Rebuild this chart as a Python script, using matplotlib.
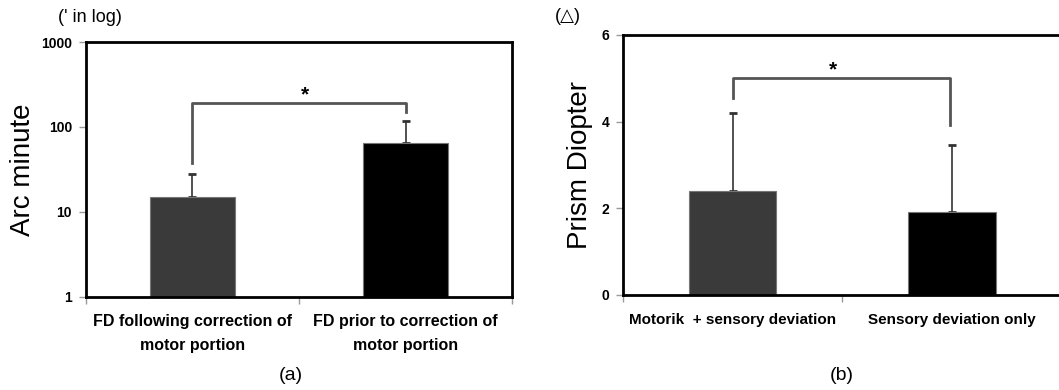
import matplotlib.pyplot as plt
import numpy as np

plt.rcParams['font.family'] = ['Liberation Sans', 'DejaVu Sans']

# panel (a): arc minute, log scale
cats_a = ['FD following correction of\nmotor portion', 'FD prior to correction of\nmotor portion']
mean_a = [15, 65]
sd_a = [13, 53]
# panel (b): prism diopter
cats_b = ['Motorik  + sensory deviation', 'Sensory deviation only']
mean_b = [2.4, 1.92]
sd_b = [1.8, 1.54]
bar_cols = ['#3a3a3a', '#000000']

fig = plt.figure(figsize=(10.59, 3.90), dpi=100)
ax1 = fig.add_axes([0.0812, 0.2385, 0.4023, 0.6538])
ax2 = fig.add_axes([0.5883, 0.2436, 0.4140, 0.6667])


def style(ax):
    for s in ax.spines.values():
        s.set_linewidth(2.0)
        s.set_color('black')
    ax.tick_params(axis='y', length=5, width=1, color='#999999', labelsize=10, pad=5)
    ax.tick_params(axis='x', length=5, width=1, color='#999999', labelsize=9.5, pad=6)
    for t in ax.get_yticklabels():
        t.set_fontweight('bold')


x = np.arange(2)

# ---- (a)
ax1.bar(x, mean_a, width=0.4, color=bar_cols, edgecolor='#777777', linewidth=0.8, zorder=2)
ax1.errorbar(x, mean_a, yerr=[[0, 0], sd_a], fmt='none', ecolor='#333333',
             elinewidth=1.2, capsize=3, capthick=2, zorder=1)
ax1.set_yscale('log')
ax1.set_ylim(1, 1000)
ax1.set_yticks([1, 10, 100, 1000])
ax1.set_yticklabels(['1', '10', '100', '1000'])
ax1.yaxis.set_minor_locator(plt.NullLocator())
ax1.set_xlim(-0.5, 1.5)
ax1.set_xticks([-0.5, 0.5, 1.5])
ax1.set_xticklabels([])
for xi, lab in zip(x, cats_a):
    ax1.text(xi, -0.065, lab, transform=ax1.get_xaxis_transform(), ha='center', va='top',
             fontsize=11.5, fontweight='bold', linespacing=1.75)
ax1.plot([0, 0, 1, 1], [38, 190, 190, 150], color='#555555', lw=2)
ax1.text(0.53, 240, '*', ha='center', va='center', fontsize=15, fontweight='bold')
ax1.set_ylabel('Arc minute', fontsize=20, labelpad=4)
ax1.text(-0.065, 1.095, "(' in log)", transform=ax1.transAxes, ha='left', va='center', fontsize=13)
style(ax1)
ax1.text(0.48, -0.306, '(a)', transform=ax1.transAxes, ha='center', va='center', fontsize=14)

# ---- (b)
ax2.bar(x, mean_b, width=0.4, color=bar_cols, edgecolor='#777777', linewidth=0.8, zorder=2)
ax2.errorbar(x, mean_b, yerr=[[0, 0], sd_b], fmt='none', ecolor='#333333',
             elinewidth=1.2, capsize=3, capthick=2, zorder=1)
ax2.set_ylim(0, 6)
ax2.set_yticks([0, 2, 4, 6])
ax2.set_xlim(-0.5, 1.5)
ax2.set_xticks([-0.5, 0.5, 1.5])
ax2.set_xticklabels([])
for xi, lab in zip(x, cats_b):
    ax2.text(xi, -0.07, lab, transform=ax2.get_xaxis_transform(), ha='center', va='top',
             fontsize=11, fontweight='bold')
ax2.plot([0, 0, 0.99, 0.99], [4.55, 5.0, 5.0, 3.93], color='#555555', lw=2)
ax2.text(0.46, 5.2, '*', ha='center', va='center', fontsize=15, fontweight='bold')
ax2.set_ylabel('Prism Diopter', fontsize=20, labelpad=6)
ax2.text(-0.155, 1.07, '(\u25b3)', transform=ax2.transAxes, ha='left', va='center', fontsize=13)
style(ax2)
ax2.text(0.5, -0.308, '(b)', transform=ax2.transAxes, ha='center', va='center', fontsize=14)

fig.savefig('out.png', dpi=100)
